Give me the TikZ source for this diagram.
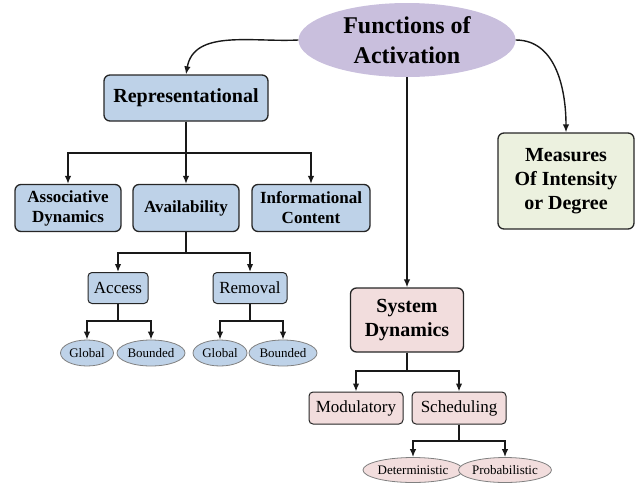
\documentclass[tikz,border=0pt]{standalone}
\usepackage{fontspec}
\setmainfont{Liberation Serif}
\usetikzlibrary{arrows.meta,shapes.geometric}
\definecolor{actlilac}{RGB}{201,191,221}
\definecolor{reprblue}{RGB}{190,210,232}
\definecolor{sysrose}{RGB}{242,221,221}
\definecolor{measgreen}{RGB}{236,241,223}
\begin{document}
\begin{tikzpicture}[x=1pt,y=-1pt,
  box/.style={draw=black!85,line width=1.3pt,rounded corners=6pt,align=center,inner sep=1pt},
  big/.style={box,font=\fontsize{20}{24}\selectfont\bfseries},
  mid/.style={box,font=\fontsize{17}{20}\selectfont\bfseries},
  small/.style={draw=black!85,line width=1pt,rounded corners=4pt,align=center,inner sep=1pt,font=\fontsize{17}{20}\selectfont},
  leaf/.style={ellipse,draw=black!50,line width=0.8pt,inner sep=0pt,font=\fontsize{13}{15}\selectfont},
  link/.style={-{Latex[length=8pt,width=6.5pt]},line width=1.4pt,black!90}]
\useasboundingbox (0,0) rectangle (636,482);
\node[ellipse,fill=actlilac,minimum width=217pt,minimum height=74pt,inner sep=0pt,align=center,font=\fontsize{24}{30}\selectfont\bfseries] (act) at (407,40) {Functions of\\Activation};
\node[big,fill=reprblue,minimum width=164pt,minimum height=46pt] (repr) at (186,98) {Representational};
\node[mid,fill=reprblue,minimum width=106pt,minimum height=47pt] (assoc) at (68,208) {Associative\\Dynamics};
\node[mid,fill=reprblue,minimum width=106pt,minimum height=47pt] (avail) at (186,208) {Availability};
\node[mid,fill=reprblue,minimum width=118pt,minimum height=47pt] (info) at (311,208) {Informational\\Content};
\node[small,fill=reprblue,minimum width=60pt,minimum height=31pt] (access) at (118,288) {Access};
\node[small,fill=reprblue,minimum width=74pt,minimum height=31pt] (removal) at (250,288) {Removal};
\node[leaf,fill=reprblue,minimum width=53pt,minimum height=26pt] (glob1) at (87,353) {Global};
\node[leaf,fill=reprblue,minimum width=68pt,minimum height=26pt] (bound1) at (151,353) {Bounded};
\node[leaf,fill=reprblue,minimum width=54pt,minimum height=26pt] (glob2) at (220,353) {Global};
\node[leaf,fill=reprblue,minimum width=68pt,minimum height=26pt] (bound2) at (283,353) {Bounded};
\node[big,fill=sysrose,minimum width=113pt,minimum height=64pt] (sys) at (407,320) {System\\Dynamics};
\node[small,fill=sysrose,minimum width=94pt,minimum height=32pt] (modul) at (356,408) {Modulatory};
\node[small,fill=sysrose,minimum width=94pt,minimum height=32pt] (sched) at (459,408) {Scheduling};
\node[leaf,fill=sysrose,minimum width=88pt,minimum height=25pt] (determ) at (413,470) {Deterministic};
\node[leaf,fill=sysrose,minimum width=88pt,minimum height=25pt] (probab) at (505,470) {Probabilistic};
\node[big,fill=measgreen,minimum width=136pt,minimum height=96pt] (meas) at (566,181) {Measures\\Of Intensity\\or Degree};
\coordinate (s1) at (186,153);
\coordinate (s2) at (186,253);
\coordinate (s3) at (118,321);
\coordinate (s4) at (250,321);
\coordinate (s5) at (407,371);
\coordinate (s6) at (459,441);
\draw[link] (act.west) to[out=183,in=80] (repr.north);
\draw[link] (act.east) to[out=0,in=90] (meas.north);
\draw[link] (act.south) -- (sys.north);
\draw[link] (repr) -- (s1) -| (assoc);
\draw[link] (repr) -- (s1) -- (avail);
\draw[link] (repr) -- (s1) -| (info);
\draw[link] (avail) -- (s2) -| (access);
\draw[link] (avail) -- (s2) -| (removal);
\draw[link] (access) -- (s3) -| (glob1);
\draw[link] (access) -- (s3) -| (bound1);
\draw[link] (removal) -- (s4) -| (glob2);
\draw[link] (removal) -- (s4) -| (bound2);
\draw[link] (sys) -- (s5) -| (modul);
\draw[link] (sys) -- (s5) -| (sched);
\draw[link] (sched) -- (s6) -| (determ);
\draw[link] (sched) -- (s6) -| (probab);
\end{tikzpicture}
\end{document}
